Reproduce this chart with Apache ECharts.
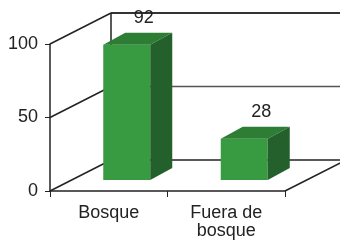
<!DOCTYPE html>
<html>
<head>
<meta charset="utf-8">
<script src="https://cdn.jsdelivr.net/npm/echarts@6/dist/echarts.min.js"></script>
<style>
  html, body { margin: 0; padding: 0; background: #fff; }
  #chart { width: 340px; height: 240px; }
</style>
</head>
<body>
<div id="chart"></div>
<script>
const categories = ['Bosque', 'Fuera de\nbosque']
const values = [92, 28]
const yTicks = [0, 50, 100]

// depth of the 3d box and of the bars
const DX = 61, DY = -31
const FX = 18, FY = -11
const BDX = 22, BDY = -12

const chart = echarts.init(document.getElementById('chart'), null, { renderer: 'canvas' })

const renderFrame = (params, api) => {
  const cs = params.coordSys
  const x0 = cs.x, x1 = cs.x + cs.width
  const yTop = api.coord([0, yTicks[yTicks.length - 1]])[1]
  const yBot = api.coord([0, yTicks[0]])[1]
  const children = []
  yTicks.forEach((v, i) => {
    const y = api.coord([0, v])[1]
    const top = i === yTicks.length - 1
    const st = { stroke: top ? '#333' : (i === 0 ? '#222' : '#555'), lineWidth: top ? 2 : 1.5 }
    children.push({ type: 'line', shape: { x1: x0, y1: y, x2: x0 + DX, y2: y + DY }, style: { stroke: '#222', lineWidth: 1.5 } })
    children.push({ type: 'line', shape: { x1: x0 + DX, y1: y + DY, x2: x1 + DX, y2: y + DY }, style: st })
  })
  children.push({ type: 'line', shape: { x1: x0 + DX, y1: yTop + DY, x2: x0 + DX, y2: yBot + DY }, style: { stroke: '#222', lineWidth: 1.5 } })
  children.push({ type: 'line', shape: { x1: x1, y1: yBot, x2: x1 + DX, y2: yBot + DY }, style: { stroke: '#222', lineWidth: 1.5 } })
  return { type: 'group', children }
}

const renderBar = (params, api) => {
  const idx = api.value(0)
  const v = api.value(1)
  const c0 = api.coord([idx, 0])
  const c1 = api.coord([idx, v])
  const bw = api.size([1, 0])[0] * 0.4
  const l = c0[0] + FX - bw / 2
  const r = l + bw
  const b = c0[1] + FY
  const t = c1[1] + FY
  return {
    type: 'group',
    children: [
      { type: 'rect', shape: { x: l, y: t, width: bw, height: b - t }, style: { fill: '#389a41' } },
      { type: 'polygon', shape: { points: [[l, t], [r, t], [r + BDX, t + BDY], [l + BDX, t + BDY]] }, style: { fill: '#2e7d35' } },
      { type: 'polygon', shape: { points: [[r, t], [r + BDX, t + BDY], [r + BDX, b + BDY], [r, b]] }, style: { fill: '#24602b' } },
      {
        type: 'text',
        style: {
          text: String(v), x: c0[0] + FX + 17, y: t + BDY - 15,
          align: 'center', verticalAlign: 'middle',
          fill: '#222', fontSize: 18, fontFamily: 'Liberation Sans'
        }
      }
    ]
  }
}

chart.setOption({
  animation: false,
  textStyle: { fontFamily: 'Liberation Sans' },
  grid: { left: 50, right: 55, top: 44, bottom: 49 },
  xAxis: {
    type: 'category',
    data: categories,
    axisLine: { lineStyle: { color: '#222', width: 1.5 } },
    axisTick: { show: true, length: 6, lineStyle: { color: '#222' } },
    axisLabel: { color: '#222', fontSize: 18, lineHeight: 18, margin: 13 }
  },
  yAxis: {
    type: 'value',
    min: 0,
    max: 100,
    interval: 50,
    axisLine: { show: true, lineStyle: { color: '#222', width: 1.5 } },
    axisTick: { show: true, length: 5, lineStyle: { color: '#222' } },
    axisLabel: { color: '#222', fontSize: 18, margin: 12 },
    splitLine: { show: false }
  },
  series: [
    {
      type: 'custom',
      z: 1,
      silent: true,
      renderItem: renderFrame,
      data: [[0, 0]]
    },
    {
      type: 'custom',
      z: 3,
      renderItem: renderBar,
      data: values.map((v, i) => [i, v])
    }
  ]
})
</script>
</body>
</html>
